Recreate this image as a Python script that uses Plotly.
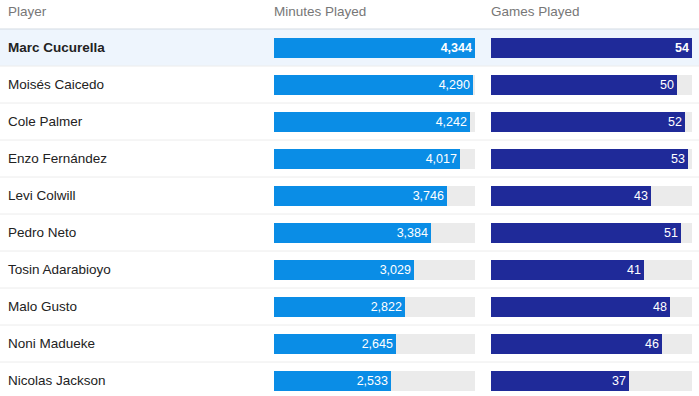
import plotly.graph_objects as go

players = ["Marc Cucurella", "Moisés Caicedo", "Cole Palmer", "Enzo Fernández",
           "Levi Colwill", "Pedro Neto", "Tosin Adarabioyo", "Malo Gusto",
           "Noni Madueke", "Nicolas Jackson"]
minutes = [4344, 4290, 4242, 4017, 3746, 3384, 3029, 2822, 2645, 2533]
games = [54, 50, 52, 53, 43, 51, 41, 48, 46, 37]
headers = ["Player", "Minutes Played", "Games Played"]
highlight = "Marc Cucurella"

W, H = 699, 396
ROW = 37.0
HEAD = 29.0
FONT = "Liberation Sans, Arial, sans-serif"

rows = list(range(len(players)))
y_top = -(HEAD + ROW / 2) / ROW
y_bot = (H - HEAD - ROW / 2) / ROW

max_min = max(minutes)
max_games = max(games)
bw = 20 / ROW

def px(x):
    return x / W

def fmt(v, bold):
    s = f"{v:,}"
    return f"<b>{s}</b>" if bold else s

bold = [p == highlight for p in players]

fig = go.Figure()
# tracks
fig.add_trace(go.Bar(y=rows, x=[max_min] * len(rows), orientation="h", width=bw,
                     marker=dict(color="#ebebeb", line=dict(width=0)),
                     xaxis="x", yaxis="y", hoverinfo="skip", showlegend=False))
fig.add_trace(go.Bar(y=rows, x=[max_games] * len(rows), orientation="h", width=bw,
                     marker=dict(color="#ebebeb", line=dict(width=0)),
                     xaxis="x2", yaxis="y", hoverinfo="skip", showlegend=False))
# values
fig.add_trace(go.Bar(y=rows, x=minutes, orientation="h", width=bw,
                     marker=dict(color="#0a8de6", line=dict(width=0)),
                     text=[fmt(v, b) for v, b in zip(minutes, bold)],
                     textposition="inside", insidetextanchor="end", textangle=0,
                     textfont=dict(color="white", size=12.5, family=FONT),
                     constraintext="none", cliponaxis=False,
                     xaxis="x", yaxis="y", showlegend=False))
fig.add_trace(go.Bar(y=rows, x=games, orientation="h", width=bw,
                     marker=dict(color="#1f2a99", line=dict(width=0)),
                     text=[fmt(v, b) for v, b in zip(games, bold)],
                     textposition="inside", insidetextanchor="end", textangle=0,
                     textfont=dict(color="white", size=12.5, family=FONT),
                     constraintext="none", cliponaxis=False,
                     xaxis="x2", yaxis="y", showlegend=False))

shapes = []
hi = players.index(highlight)
shapes.append(dict(type="rect", xref="paper", yref="y", x0=0, x1=1,
                   y0=hi - 0.5, y1=hi + 0.5, fillcolor="#eef5fd",
                   line=dict(width=0), layer="below"))
shapes.append(dict(type="line", xref="paper", yref="y", x0=0, x1=1,
                   y0=-0.5, y1=-0.5, line=dict(color="#d3dbe4", width=1.2),
                   layer="below"))
for i in rows[:-1]:
    shapes.append(dict(type="line", xref="paper", yref="y", x0=0, x1=1,
                       y0=i + 0.5, y1=i + 0.5, line=dict(color="#ececec", width=1),
                       layer="below"))

annotations = []
for i, p in enumerate(players):
    annotations.append(dict(x=px(6), y=i, xref="paper", yref="y",
                            text=f"<b>{p}</b>" if p == highlight else p,
                            showarrow=False, xanchor="left", yanchor="middle",
                            font=dict(size=13.5, color="#222222", family=FONT)))
hx = [6, 272, 489]
hy = (11 - HEAD - ROW / 2) / ROW
for t, x in zip(headers, hx):
    annotations.append(dict(x=px(x), y=hy, xref="paper", yref="y", text=t,
                            showarrow=False, xanchor="left", yanchor="middle",
                            font=dict(size=13.5, color="#777777", family=FONT)))

fig.update_layout(
    width=W, height=H, margin=dict(l=0, r=0, t=0, b=0),
    paper_bgcolor="white", plot_bgcolor="rgba(0,0,0,0)",
    barmode="overlay", bargap=0,
    xaxis=dict(domain=[px(274), px(475)], range=[0, max_min], visible=False,
               fixedrange=True),
    xaxis2=dict(domain=[px(491), px(692)], range=[0, max_games], visible=False,
                fixedrange=True, anchor="y"),
    yaxis=dict(range=[y_bot, y_top], visible=False, fixedrange=True),
    shapes=shapes, annotations=annotations,
    font=dict(family=FONT),
)

fig.write_html("out.html", config=dict(displayModeBar=False),
               post_script="document.body.style.margin='0';document.body.style.overflow='hidden';")
